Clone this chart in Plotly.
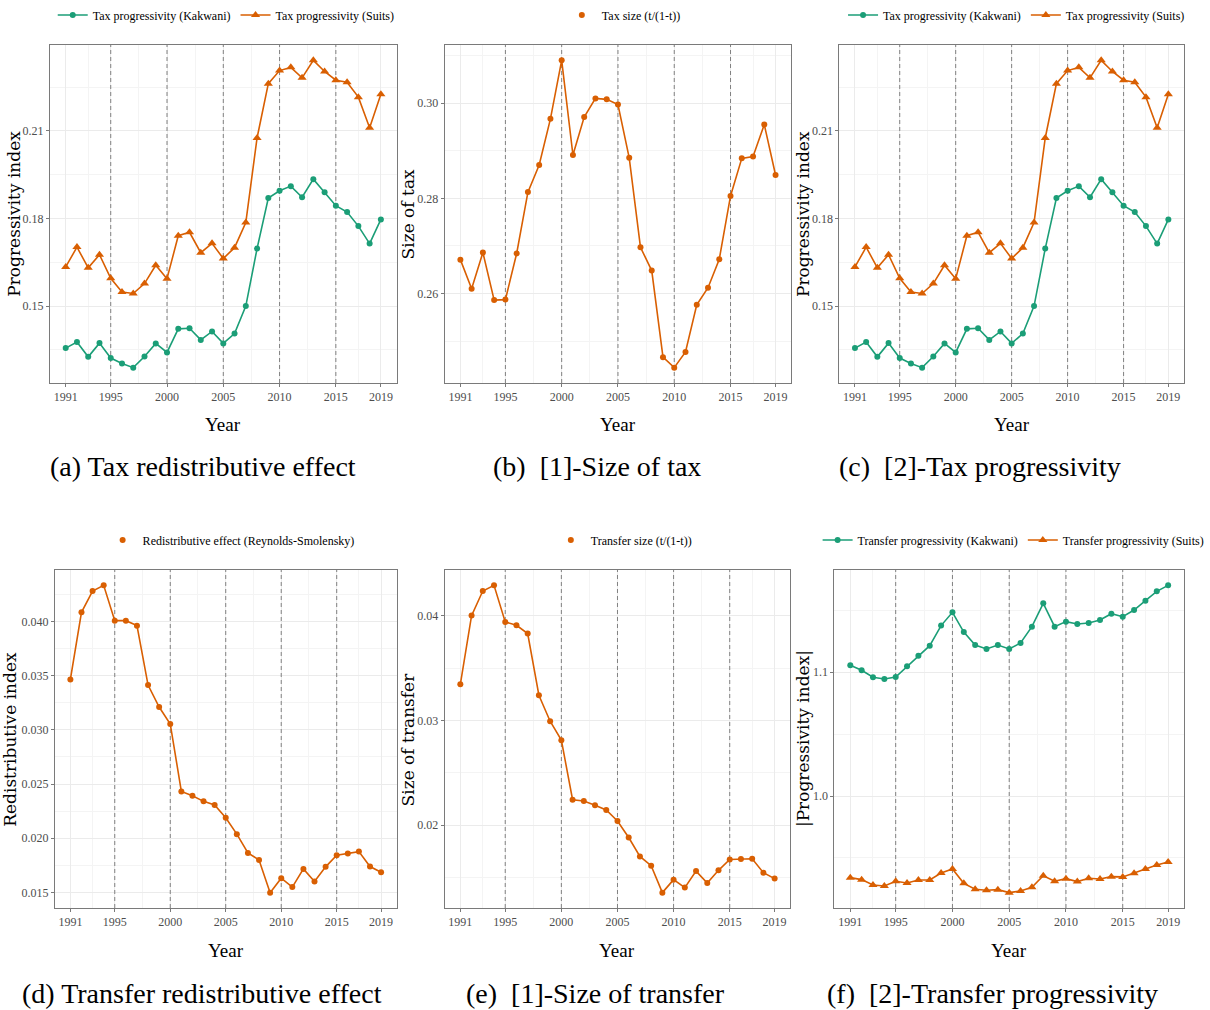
import plotly.graph_objects as go

# ---------------- data ----------------
years = list(range(1991, 2020))

tax_kakwani = [0.1356, 0.1377, 0.1326, 0.1373, 0.1322, 0.1303, 0.1289, 0.1327, 0.1372, 0.1341,
               0.1422, 0.1424, 0.1384, 0.1413, 0.1372, 0.1406, 0.1500, 0.1697, 0.1870, 0.1895,
               0.1911, 0.1873, 0.1935, 0.1890, 0.1844, 0.1822, 0.1774, 0.1714, 0.1797]
tax_suits = [0.1634, 0.1702, 0.1631, 0.1676, 0.1595, 0.1548, 0.1543, 0.1577, 0.1640, 0.1594,
             0.1741, 0.1753, 0.1683, 0.1715, 0.1663, 0.1700, 0.1786, 0.2076, 0.2262, 0.2307,
             0.2318, 0.2282, 0.2342, 0.2304, 0.2274, 0.2267, 0.2216, 0.2111, 0.2226]
tax_size = [0.2671, 0.2610, 0.2686, 0.2586, 0.2587, 0.2684, 0.2813, 0.2870, 0.2967, 0.3090,
            0.2891, 0.2971, 0.3010, 0.3008, 0.2997, 0.2885, 0.2697, 0.2648, 0.2466, 0.2444,
            0.2477, 0.2576, 0.2612, 0.2672, 0.2805, 0.2884, 0.2888, 0.2955, 0.2849]
transfer_re = [0.03466, 0.04086, 0.04282, 0.04335, 0.04009, 0.04009, 0.03963, 0.03414, 0.03211, 0.03055,
               0.02432, 0.02392, 0.02340, 0.02306, 0.02189, 0.02037, 0.01863, 0.01799, 0.01497, 0.01630,
               0.01548, 0.01716, 0.01600, 0.01735, 0.01842, 0.01858, 0.01876, 0.01738, 0.01686]
transfer_size = [0.03346, 0.04003, 0.04238, 0.04292, 0.03943, 0.03911, 0.03832, 0.03242, 0.02994, 0.02813,
                 0.02244, 0.02232, 0.02190, 0.02146, 0.02041, 0.01883, 0.01702, 0.01613, 0.01356, 0.01480,
                 0.01404, 0.01562, 0.01448, 0.01569, 0.01673, 0.01677, 0.01680, 0.01547, 0.01490]
transfer_kakwani = [1.1056, 1.1016, 1.0960, 1.0946, 1.0962, 1.1048, 1.1134, 1.1215, 1.1377, 1.1484,
                    1.1325, 1.1220, 1.1188, 1.1220, 1.1188, 1.1237, 1.1368, 1.1557, 1.1368, 1.1409,
                    1.1390, 1.1398, 1.1422, 1.1473, 1.1449, 1.1503, 1.1578, 1.1654, 1.1702]
transfer_suits = [0.9341, 0.9325, 0.9282, 0.9274, 0.9312, 0.9298, 0.9322, 0.9322, 0.9379, 0.9411,
                  0.9295, 0.9247, 0.9239, 0.9244, 0.9220, 0.9233, 0.9263, 0.9357, 0.9312, 0.9333,
                  0.9309, 0.9336, 0.9330, 0.9349, 0.9347, 0.9376, 0.9411, 0.9443, 0.9468]

x_ticks = [1991, 1995, 2000, 2005, 2010, 2015, 2019]
x_minor = [1993, 1997.5, 2002.5, 2007.5, 2012.5, 2017]
period_breaks = [1995, 2000, 2005, 2010, 2015]

captions = ["(a) Tax redistributive effect",
            "(b)\u00a0\u00a0[1]-Size of tax",
            "(c)\u00a0\u00a0[2]-Tax progressivity",
            "(d) Transfer redistributive effect",
            "(e)\u00a0\u00a0[1]-Size of transfer",
            "(f)\u00a0\u00a0[2]-Transfer progressivity"]

# ---------------- style ----------------
W, H = 1210, 1010
GREEN = "#1B9E77"
ORANGE = "#D95F02"
SERIF = "Liberation Serif"

panels = [
    dict(px=(51, 405), py=(45, 383), series=[("Tax progressivity (Kakwani)", tax_kakwani, GREEN, "circle", 6),
                                               ("Tax progressivity (Suits)", tax_suits, ORANGE, "triangle-up", 8)],
         ytitle="Progressivity index", yticks=[0.15, 0.18, 0.21], yminor=[0.135, 0.165, 0.195, 0.225],
         yfmt=".2f", leg=(231, 15), cap=(207, 467), ytx=14, xty=425),
    dict(px=(454, 808), py=(45, 383), series=[("Tax size (t/(1-t))", tax_size, ORANGE, "circle", 6)],
         ytitle="Size of tax", yticks=[0.26, 0.28, 0.30], yminor=[0.25, 0.27, 0.29, 0.31],
         yfmt=".2f", leg=(637, 15), cap=(610, 467), ytx=417, xty=425),
    dict(px=(857, 1209), py=(45, 383), series=[("Tax progressivity (Kakwani)", tax_kakwani, GREEN, "circle", 6),
                                                 ("Tax progressivity (Suits)", tax_suits, ORANGE, "triangle-up", 8)],
         ytitle="Progressivity index", yticks=[0.15, 0.18, 0.21], yminor=[0.135, 0.165, 0.195, 0.225],
         yfmt=".2f", leg=(1038, 15), cap=(1001, 467), ytx=820, xty=425),
    dict(px=(56, 405), py=(570, 908), series=[("Redistributive effect (Reynolds-Smolensky)", transfer_re, ORANGE, "circle", 6)],
         ytitle="Redistributive index", yticks=[0.015, 0.020, 0.025, 0.030, 0.035, 0.040],
         yminor=[0.0175, 0.0225, 0.0275, 0.0325, 0.0375, 0.0425],
         yfmt=".3f", leg=(236, 540), cap=(206, 993), ytx=10, xty=950),
    dict(px=(454, 807), py=(570, 908), series=[("Transfer size (t/(1-t))", transfer_size, ORANGE, "circle", 6)],
         ytitle="Size of transfer", yticks=[0.02, 0.03, 0.04], yminor=[0.015, 0.025, 0.035],
         yfmt=".2f", leg=(637, 540), cap=(608, 993), ytx=417, xty=950),
    dict(px=(852, 1209), py=(570, 908), series=[("Transfer progressivity (Kakwani)", transfer_kakwani, GREEN, "circle", 6),
                                                  ("Transfer progressivity (Suits)", transfer_suits, ORANGE, "triangle-up", 8)],
         ytitle="|Progressivity index|", yticks=[1.0, 1.1], yminor=[0.95, 1.05, 1.15],
         yfmt=".1f", leg=(1035, 540), cap=(1013, 993), ytx=820, xty=950),
]

fig = go.Figure()
layout = dict(width=W, height=H, margin=dict(l=0, r=0, t=0, b=0),
              paper_bgcolor="white", plot_bgcolor="white")
shapes = []
annotations = []

xr = [x_ticks[0] - 0.05 * (x_ticks[-1] - x_ticks[0]), x_ticks[-1] + 0.05 * (x_ticks[-1] - x_ticks[0])]

for i, p in enumerate(panels, start=1):
    sfx = "" if i == 1 else str(i)
    leg_name = "legend" if i == 1 else f"legend{i}"
    allv = [v for s in p["series"] for v in s[1]]
    lo, hi = min(allv), max(allv)
    yr = [lo - 0.05 * (hi - lo), hi + 0.05 * (hi - lo)]

    for name, vals, col, sym, msz in p["series"]:
        if len(p["series"]) > 1:
            fig.add_trace(go.Scatter(x=years, y=vals, name=name, mode="lines+markers",
                                     line=dict(color=col, width=1.6),
                                     marker=dict(color=col, symbol=sym, size=msz),
                                     xaxis="x" + sfx, yaxis="y" + sfx, legend=leg_name))
        else:
            fig.add_trace(go.Scatter(x=years, y=vals, name=name, mode="lines",
                                     line=dict(color=col, width=1.6), showlegend=False,
                                     xaxis="x" + sfx, yaxis="y" + sfx, legend=leg_name))
            fig.add_trace(go.Scatter(x=years, y=vals, name=name, mode="markers",
                                     marker=dict(color=col, symbol=sym, size=msz),
                                     xaxis="x" + sfx, yaxis="y" + sfx, legend=leg_name))

    axis_common = dict(showgrid=True, gridcolor="#EBEBEB", gridwidth=1,
                       showline=True, mirror=True, linecolor="#7A7A7A", linewidth=1,
                       ticks="outside", ticklen=3, tickcolor="#7A7A7A", zeroline=False,
                       tickfont=dict(family=SERIF, size=12, color="#4D4D4D"))
    layout["xaxis" + sfx] = dict(axis_common, domain=[p["px"][0] / W, p["px"][1] / W],
                                 anchor="y" + sfx, range=xr, tickmode="array", tickvals=x_ticks,
                                 minor=dict(tickmode="array", tickvals=x_minor, showgrid=True,
                                            gridcolor="#F4F4F4", gridwidth=0.6))
    layout["yaxis" + sfx] = dict(axis_common, domain=[1 - p["py"][1] / H, 1 - p["py"][0] / H],
                                 anchor="x" + sfx, range=yr, tickmode="array", tickvals=p["yticks"],
                                 tickformat=p["yfmt"],
                                 minor=dict(tickmode="array", tickvals=p["yminor"], showgrid=True,
                                            gridcolor="#F4F4F4", gridwidth=0.6))
    layout[leg_name] = dict(orientation="h", x=p["leg"][0] / W, xanchor="center",
                            y=1 - p["leg"][1] / H, yanchor="middle", bgcolor="rgba(0,0,0,0)",
                            font=dict(family=SERIF, size=12, color="black"))
    for b in period_breaks:
        shapes.append(dict(type="line", xref="x" + sfx, yref="y" + sfx,
                           x0=b, x1=b, y0=yr[0], y1=yr[1], layer="between",
                           line=dict(color="#808080", width=1, dash="4px,3px")))
    # caption
    annotations.append(dict(text=captions[i - 1], xref="paper", yref="paper",
                            x=p["cap"][0] / W, y=1 - p["cap"][1] / H,
                            xanchor="center", yanchor="middle", showarrow=False,
                            font=dict(family=SERIF, size=28, color="black")))
    # x-axis title
    annotations.append(dict(text="Year", xref="paper", yref="paper",
                            x=(p["px"][0] + p["px"][1]) / 2 / W, y=1 - p["xty"] / H,
                            xanchor="center", yanchor="middle", showarrow=False,
                            font=dict(family=SERIF, size=19, color="black")))
    # y-axis title
    annotations.append(dict(text=p["ytitle"], xref="paper", yref="paper", textangle=-90,
                            x=p["ytx"] / W, y=1 - (p["py"][0] + p["py"][1]) / 2 / H,
                            xanchor="center", yanchor="middle", showarrow=False,
                            font=dict(family="DejaVu Serif", size=17, color="black")))

layout["shapes"] = shapes
layout["annotations"] = annotations
fig.update_layout(**layout)
fig.write_html("out.html")
